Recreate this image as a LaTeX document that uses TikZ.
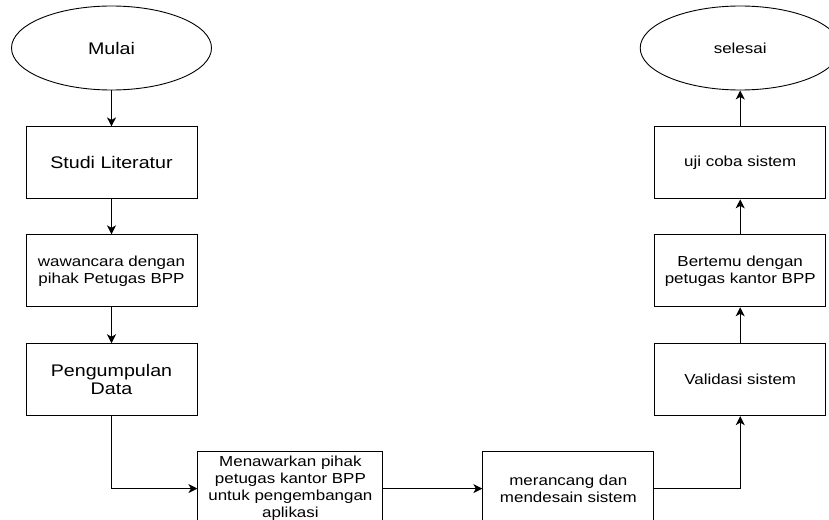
\documentclass[tikz,border=0pt]{standalone}
\usepackage{fontspec}
\setmainfont{Liberation Sans}[FakeStretch=1.17]
\usepackage{tikz}
\usetikzlibrary{arrows.meta,positioning,shapes.geometric}

\begin{document}
\begin{tikzpicture}[
  x=1pt, y=-1pt,
  node distance=36pt,
  terminal/.style={draw, ellipse, line width=0.9pt, inner sep=0pt, minimum width=200pt, minimum height=84pt, font=\fontsize{14.5}{17}\selectfont},
  process/.style={draw, rectangle, line width=0.9pt, align=center, inner sep=0pt, minimum width=171pt, minimum height=72pt, font=\fontsize{14.5}{17}\selectfont},
  bigtext/.style={font=\fontsize{16.8}{18.3}\selectfont},
  arrow/.style={-{Stealth[length=9pt, width=9pt, inset=2.5pt]}, line width=1.2pt}
]
  \useasboundingbox (0,0) rectangle (829,519);

  \node[terminal, bigtext] (mulai) at (111.5,48) {Mulai};
  \node[process, bigtext, below=of mulai] (studi) {Studi Literatur};
  \node[process, below=35pt of studi] (wawancara) {wawancara dengan\\pihak Petugas BPP};
  \node[process, bigtext, below=of wawancara] (pengumpulan) {Pengumpulan\\Data};

  \node[process, minimum width=185pt, minimum height=74pt, below right=35pt and 0pt of pengumpulan] (menawarkan) {Menawarkan pihak\\petugas kantor BPP\\untuk pengembangan\\aplikasi};
  \node[process, minimum height=74pt, right=99pt of menawarkan] (merancang) {merancang dan\\mendesain sistem};

  \node[process, above right=35pt and 0pt of merancang] (validasi) {Validasi sistem};
  \node[process, above=of validasi] (bertemu) {Bertemu dengan\\petugas kantor BPP};
  \node[process, above=35pt of bertemu] (uji) {uji coba sistem};
  \node[terminal, above=of uji] (selesai) {selesai};

  \draw[arrow] (mulai) -- (studi);
  \draw[arrow] (studi) -- (wawancara);
  \draw[arrow] (wawancara) -- (pengumpulan);
  \draw[arrow] (pengumpulan) |- (menawarkan);
  \draw[arrow] (menawarkan) -- (merancang);
  \draw[arrow] (merancang) -| (validasi);
  \draw[arrow] (validasi) -- (bertemu);
  \draw[arrow] (bertemu) -- (uji);
  \draw[arrow] (uji) -- (selesai);
\end{tikzpicture}
\end{document}
